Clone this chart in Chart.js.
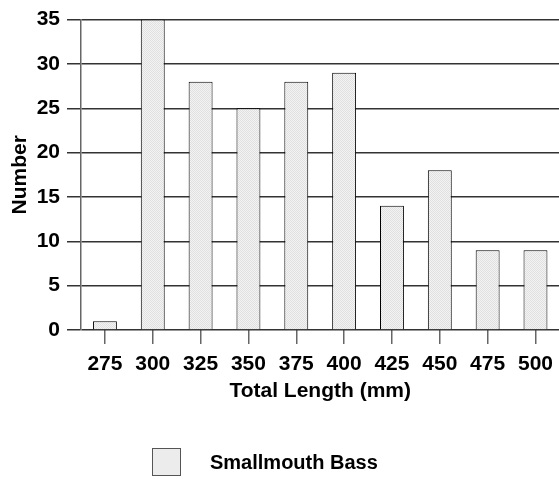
<!DOCTYPE html>
<html>
<head>
<meta charset="utf-8">
<script src="https://cdn.jsdelivr.net/npm/chart.js@4"></script>
<style>
  html, body { margin: 0; padding: 0; background: #fff; overflow: hidden; }
  #wrap { position: relative; width: 559px; height: 479px; overflow: hidden; }
  #legend { position: absolute; left: 152px; top: 448px; height: 28px; display: flex; align-items: center;
    font-family: "Liberation Sans", Arial, sans-serif; font-size: 20px; font-weight: bold; color: #000; }
  #legend .box { width: 27px; height: 26px; border: 1px solid #555; background: #ececec; margin-right: 29px; }
</style>
</head>
<body>
<div id="wrap">
  <canvas id="chart" width="561" height="479"></canvas>
  <div id="legend"><span class="box"></span><span>Smallmouth Bass</span></div>
</div>
<script>
  const categorias = ["275", "300", "325", "350", "375", "400", "425", "450", "475", "500"];
  const numeros = [1, 35, 28, 25, 28, 29, 14, 18, 9, 9];
  const ticksY = [0, 5, 10, 15, 20, 25, 30, 35];

  // relleno punteado de las barras
  const pc = document.createElement("canvas");
  pc.width = 2; pc.height = 2;
  const px = pc.getContext("2d");
  px.fillStyle = "#f3f3f3"; px.fillRect(0, 0, 2, 2);
  px.fillStyle = "#e0e0e0"; px.fillRect(0, 0, 1, 1); px.fillRect(1, 1, 1, 1);
  const ctx = document.getElementById("chart").getContext("2d");
  const relleno = ctx.createPattern(pc, "repeat");

  const fuente = "'Liberation Sans', Arial, sans-serif";

  new Chart(ctx, {
    type: "bar",
    data: {
      labels: categorias,
      datasets: [{
        label: "Smallmouth Bass",
        data: numeros,
        backgroundColor: relleno,
        borderColor: "#000",
        borderWidth: 1,
        borderSkipped: "bottom",
        categoryPercentage: 1,
        barPercentage: 0.5
      }]
    },
    options: {
      responsive: false,
      animation: false,
      layout: { padding: { top: 2, right: 0, bottom: 75, left: 0 } },
      plugins: { legend: { display: false }, tooltip: { enabled: false } },
      scales: {
        x: {
          offset: true,
          afterFit: (scale) => { scale.height = 74; },
          grid: { offset: false, drawOnChartArea: false, drawTicks: true, tickLength: 14, color: "#666", lineWidth: 1.5 },
          border: { display: false },
          ticks: { color: "#000", font: { family: fuente, size: 21, weight: "bold" }, padding: 8, maxRotation: 0, autoSkip: false },
          title: { display: true, text: "Total Length (mm)", color: "#000", font: { family: fuente, size: 21, weight: "bold" }, padding: { top: 0, bottom: 0 } }
        },
        y: {
          min: 0,
          max: 35,
          afterBuildTicks: (scale) => { scale.ticks = ticksY.map(v => ({ value: v })); },
          afterFit: (scale) => { scale.width = 81; },
          grid: { color: "#333", lineWidth: 1.5, tickLength: 14 },
          border: { display: true, color: "#666", width: 1.5 },
          ticks: { color: "#000", font: { family: fuente, size: 21, weight: "bold" }, padding: 7 },
          title: { display: true, text: "Number", color: "#000", font: { family: fuente, size: 21, weight: "bold" }, padding: { top: 8, bottom: 0 } }
        }
      }
    }
  });
</script>
</body>
</html>
